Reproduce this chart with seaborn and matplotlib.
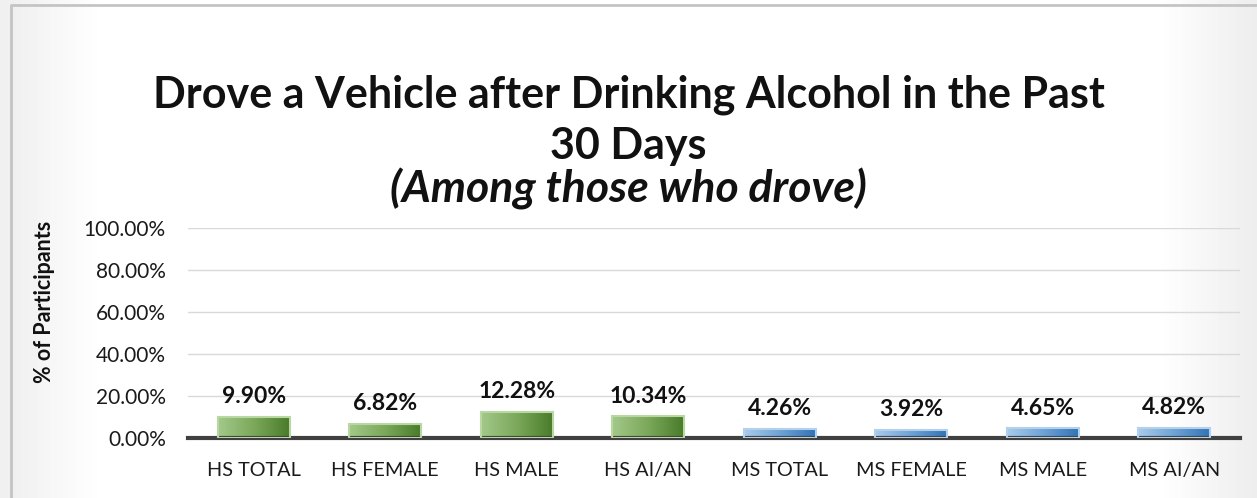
import numpy as np
import pandas as pd
import matplotlib.pyplot as plt
from matplotlib.colors import LinearSegmentedColormap
from matplotlib.ticker import FuncFormatter
import seaborn as sns

# ---------------- DATA ----------------
groups = ["HS TOTAL", "HS FEMALE", "HS MALE", "HS AI/AN",
          "MS TOTAL", "MS FEMALE", "MS MALE", "MS AI/AN"]
percents = [9.90, 6.82, 12.28, 10.34, 4.26, 3.92, 4.65, 4.82]
school = ["HS", "HS", "HS", "HS", "MS", "MS", "MS", "MS"]

df = pd.DataFrame({"group": groups, "pct": percents, "school": school})

sns.set_theme(style="white")
plt.rcParams["font.family"] = ["Lato", "DejaVu Sans"]

W, H = 1257, 498
fig = plt.figure(figsize=(W / 100, H / 100), dpi=100)

# soft grey shading at the left and right edges of the slide
bg = fig.add_axes([0, 0, 1, 1], zorder=-10)
xs = np.linspace(0, W, 400)
shade = np.clip(1 - (xs - 12) / 90, 0, 1) * 0.06 + np.clip((xs - 1160) / 97, 0, 1) * 0.07
bg.imshow((1 - shade).reshape(1, -1), cmap="gray", vmin=0, vmax=1, aspect="auto",
          extent=[0, 1, 0, 1])
bg.set_axis_off()

ax = fig.add_axes([188 / W, 1 - 438 / H, (1240 - 188) / W, (438 - 228) / H])
ax.patch.set_alpha(0)

base = {"HS": "#6a9a45", "MS": "#4f8fcc"}
sns.barplot(data=df, x="group", y="pct", hue="school", palette=base,
            width=0.55, dodge=False, legend=False, ax=ax)

# gradient fill on each bar
ramps = {
    "HS": LinearSegmentedColormap.from_list("g", ["#a3c98a", "#7ba85a", "#477a28"]),
    "MS": LinearSegmentedColormap.from_list("b", ["#a9cbea", "#6fa3d6", "#2f72b4"]),
}
edge = {"HS": "#b9d7a3", "MS": "#b3d0ec"}
grad = np.linspace(0, 1, 256).reshape(1, -1)
for p in ax.patches:
    x0, y0 = p.get_x(), p.get_y()
    w, h = p.get_width(), p.get_height()
    if h <= 0:
        continue
    idx = int(round(x0 + w / 2))
    s = school[idx]
    im = ax.imshow(grad, cmap=ramps[s], aspect="auto",
                   extent=[x0, x0 + w, y0, y0 + h], zorder=2)
    im.set_clip_path(p)
    p.set_facecolor("none")
    p.set_edgecolor(edge[s])
    p.set_linewidth(1.5)
    p.set_zorder(3)

ax.set_xlim(-0.5, len(groups) - 0.5)
ax.set_ylim(0, 100)
ax.set_yticks(range(0, 101, 20))
ax.yaxis.set_major_formatter(FuncFormatter(lambda v, _: f"{v:.2f}%"))
ax.grid(axis="y", color="#d9d9d9", linewidth=1)
ax.set_axisbelow(True)
for s in ["top", "right", "left"]:
    ax.spines[s].set_visible(False)
ax.spines["bottom"].set_color("#404040")
ax.spines["bottom"].set_linewidth(3)
ax.tick_params(axis="both", length=0, colors="#1a1a1a")
ax.tick_params(axis="x", pad=17, labelsize=14.3)
ax.tick_params(axis="y", pad=16, labelsize=15)
ax.set_xlabel("")
ax.set_ylabel("")

for i, v in enumerate(percents):
    ax.annotate(f"{v:.2f}%", (i, v), xytext=(0, 7), textcoords="offset points",
                ha="center", va="bottom", fontsize=16.5, fontweight="bold", color="#111111")

fig.text(45 / W, 1 - 302 / H, "% of Participants", rotation=90, ha="center",
         va="center", fontsize=15.5, fontweight="bold", color="#111111")

fig.text(0.5, 1 - 95 / H, "Drove a Vehicle after Drinking Alcohol in the Past",
         ha="center", va="center", fontsize=31, fontweight="bold", color="#111111")
fig.text(0.5, 1 - 146 / H, "30 Days", ha="center", va="center",
         fontsize=31, fontweight="bold", color="#111111")
fig.text(0.5, 1 - 189 / H, "(Among those who drove)", ha="center", va="center",
         fontsize=32, fontweight="bold", style="italic", color="#111111")

# outer frame (left and top edges visible)
fig.lines.append(plt.Line2D([11 / W, 11 / W, 1], [0, 1 - 5 / H, 1 - 5 / H],
                            transform=fig.transFigure, color="#c4c4c4", linewidth=2))

fig.savefig("out.png", dpi=100)
